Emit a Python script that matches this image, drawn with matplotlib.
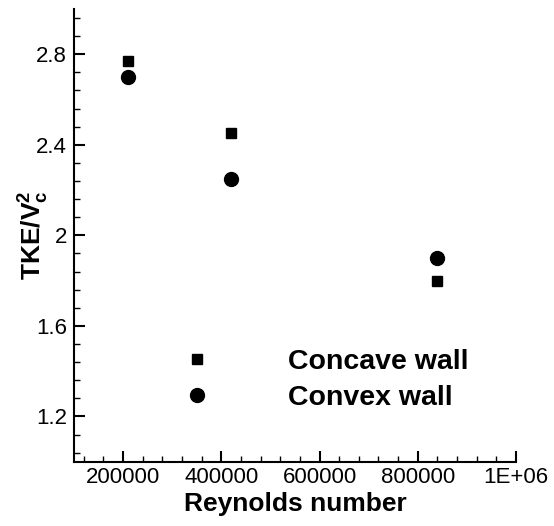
import matplotlib
matplotlib.use("Agg")
import matplotlib.pyplot as plt
from matplotlib.ticker import MultipleLocator, FixedLocator

plt.rcParams['font.family'] = ['Liberation Sans', 'DejaVu Sans']
plt.rcParams['mathtext.fontset'] = 'custom'
plt.rcParams['mathtext.rm'] = 'Liberation Sans'
plt.rcParams['mathtext.bf'] = 'Liberation Sans:bold'

# Reynolds number and normalised turbulent kinetic energy
reynolds = [210000, 420000, 840000]
concave_tke = [2.77, 2.45, 1.80]
convex_tke = [2.70, 2.25, 1.90]

x_ticks = [200000, 400000, 600000, 800000, 1000000]
x_tick_labels = ['200000', '400000', '600000', '800000', '1E+06']
y_ticks = [1.2, 1.6, 2.0, 2.4, 2.8]
y_tick_labels = ['1.2', '1.6', '2', '2.4', '2.8']

fig = plt.figure(figsize=(5.54, 5.26), dpi=100)
ax = fig.add_axes([0.1336, 0.1222, 0.7978, 0.8608])

ax.plot(reynolds, concave_tke, linestyle='none', marker='s', ms=7.3,
        color='black', label='Concave wall')
ax.plot(reynolds, convex_tke, linestyle='none', marker='o', ms=10,
        color='black', label='Convex wall')

ax.set_xlim(100000, 1000000)
ax.set_ylim(1.0, 3.0)
ax.xaxis.set_major_locator(FixedLocator(x_ticks))
ax.set_xticklabels(x_tick_labels)
ax.xaxis.set_minor_locator(MultipleLocator(40000))
ax.yaxis.set_major_locator(FixedLocator(y_ticks))
ax.set_yticklabels(y_tick_labels)
ax.yaxis.set_minor_locator(MultipleLocator(0.08))

for side in ('top', 'right'):
    ax.spines[side].set_visible(False)
for side in ('left', 'bottom'):
    ax.spines[side].set_linewidth(1.5)

ax.tick_params(which='major', direction='in', length=8, width=1.5,
               labelsize=16, pad=5)
ax.tick_params(axis='x', which='major', pad=4)
ax.tick_params(which='minor', direction='in', length=4.5, width=1.0)

ax.set_xlabel('Reynolds number', fontsize=19, fontweight='bold')
ax.xaxis.set_label_coords(0.5, -0.066)
ax.set_ylabel(r'$\mathbf{TKE/V_c^2}$', fontsize=19)
ax.yaxis.set_label_coords(-0.053, 0.5)

ax.legend(loc='center left', bbox_to_anchor=(0.213, 0.181), frameon=False,
          prop={'size': 20.5, 'weight': 'bold'}, borderpad=0,
          handlelength=2, handletextpad=2.2, labelspacing=0.36,
          borderaxespad=0)

fig.savefig('out.png', dpi=100)
